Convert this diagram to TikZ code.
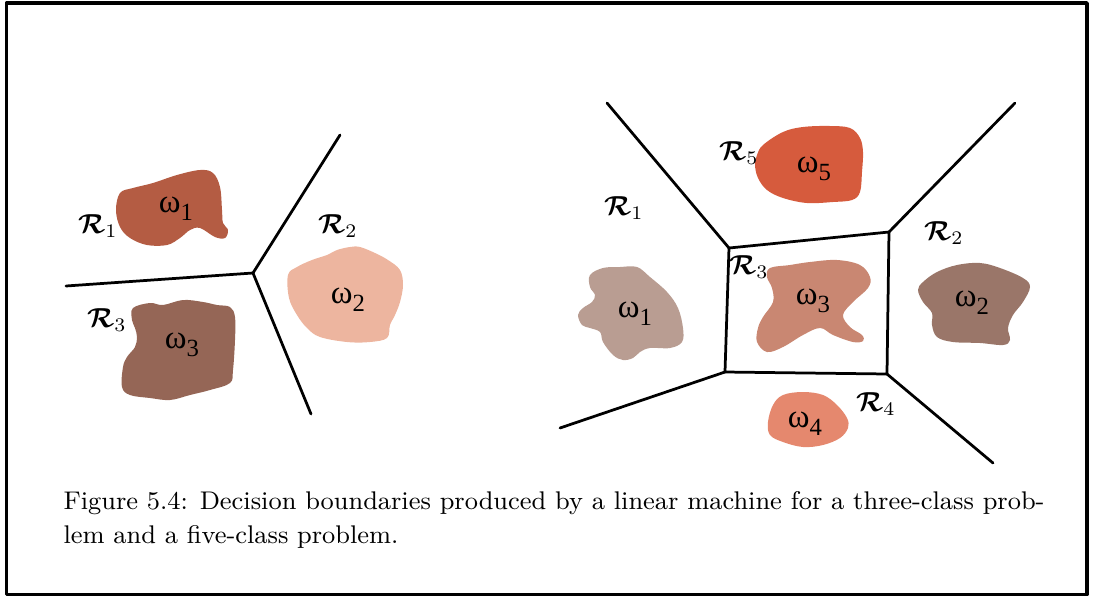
\documentclass[tikz,border=0pt]{standalone}
\usepackage{fontspec}
\usepackage{graphicx}
\usepackage{bm}
\usepackage{tikz}
\usetikzlibrary{calc}
\newfontfamily\grkfont{Liberation Serif}
\definecolor{rustone}{HTML}{B45C43}
\definecolor{peachtwo}{HTML}{EDB59F}
\definecolor{browntri}{HTML}{956656}
\definecolor{taupeone}{HTML}{B99D92}
\definecolor{mauvetwo}{HTML}{9A7669}
\definecolor{salmontri}{HTML}{C98772}
\definecolor{coralfour}{HTML}{E5886E}
\definecolor{redfive}{HTML}{D65B3D}
\newcommand{\wlab}[1]{{\grkfont\large ω\raisebox{-0.5ex}{\small #1}}}
\newcommand{\rlab}[1]{$\bm{\mathcal{R}}_{#1}$}

\begin{document}
\begin{tikzpicture}[x=0.364pt, y=-0.364pt, line cap=round, line join=round,
    bound/.style={line width=1pt},
    region/.style={font=\normalsize},
    classlab/.style={font=\large}]
      \useasboundingbox (0,0) rectangle (1094,602);
      \draw[line width=1.3pt] (6.5,3) rectangle (1087,594.5);

      % Three classes
      \coordinate (J) at (253,273);
      \coordinate (JL) at (66,286);
      \coordinate (JU) at (340,135);
      \coordinate (JD) at (311,414);
      \draw[bound] (JL) -- (J) -- (JU);
      \draw[bound] (J) -- (JD);

      \fill[rustone] plot[smooth cycle, tension=0.6] coordinates {(120,193) (133,188) (153,183) (177,175) (200,170) (213,173) (220,187) (222,210) (223,223) (228,230) (225,238) (215,237) (200,228) (190,230) (180,238) (167,245) (147,245) (130,238) (120,227) (116,210)};
      \node[classlab] (w1) at (176,209) {\wlab{1}};
      \node[region] (r1) at (98,226) {\rlab{1}};

      \fill[peachtwo] plot[smooth cycle, tension=0.6] coordinates {(350,247) (337,250) (327,255) (312,260) (297,267) (288,275) (289,298) (297,315) (307,328) (320,337) (347,342) (370,342) (387,338) (390,325) (395,315) (400,302) (403,285) (400,270) (388,260) (375,253) (360,247)};
      \node[classlab] (w2) at (348,300) {\wlab{2}};
      \node[region] (r2) at (338,226) {\rlab{2}};

      \fill[browntri] plot[smooth cycle, tension=0.6] coordinates {(133,308) (150,303) (163,305) (183,300) (203,302) (217,305) (230,307) (235,317) (235,340) (233,370) (230,383) (210,390) (190,395) (170,400) (150,398) (130,395) (122,387) (123,367) (127,357) (135,347) (137,337) (135,328) (132,320)};
      \node[classlab] (w3) at (182,345) {\wlab{3}};
      \node[region] (r3) at (107,320) {\rlab{3}};

      % Five classes
      \coordinate (BTL) at (729,248);
      \coordinate (BTR) at (889,232);
      \coordinate (BBR) at (887,374);
      \coordinate (BBL) at (725,372);
      \coordinate (ETL) at (607,103);
      \coordinate (ETR) at (1015,103);
      \coordinate (EBL) at (560,428);
      \coordinate (EBR) at (993,463);
      \draw[bound] (BTL) -- (BTR) -- (BBR) -- (BBL) -- cycle;
      \draw[bound] (BTL) -- (ETL);
      \draw[bound] (BTR) -- (ETR);
      \draw[bound] (BBL) -- (EBL);
      \draw[bound] (BBR) -- (EBR);

      \fill[redfive] plot[smooth cycle, tension=0.6] coordinates {(763,145) (783,132) (803,127) (830,126) (850,128) (860,138) (863,152) (862,172) (860,192) (852,200) (833,202) (807,203) (783,198) (767,190) (758,178) (755,165) (757,155)};
      \node[classlab] (v5) at (814,169) {\wlab{5}};
      \node[region] (s5) at (739,153) {\rlab{5}};

      \fill[taupeone] plot[smooth cycle, tension=0.6] coordinates {(590,275) (603,268) (620,267) (637,267) (650,277) (667,292) (678,308) (683,328) (682,342) (670,348) (650,348) (640,352) (633,358) (623,360) (613,355) (603,342) (600,332) (590,328) (582,325) (578,315) (583,308) (592,302) (595,295) (590,287)};
      \node[classlab] (v1) at (635,314) {\wlab{1}};
      \node[region] (s1) at (624,208) {\rlab{1}};

      \fill[salmontri] plot[smooth cycle, tension=0.6] coordinates {(770,268) (790,265) (810,262) (837,260) (860,265) (870,277) (868,288) (853,302) (843,315) (850,327) (862,335) (863,341) (853,342) (833,335) (820,328) (803,335) (783,347) (767,352) (757,342) (758,328) (763,317) (773,302) (772,288) (767,277)};
      \node[classlab] (v3) at (813,301) {\wlab{3}};
      \node[region] (s3) at (749,267) {\rlab{3}};

      \fill[mauvetwo] plot[smooth cycle, tension=0.6] coordinates {(923,282) (937,272) (957,265) (980,263) (1000,268) (1023,278) (1030,287) (1023,302) (1013,315) (1008,328) (1010,340) (1003,345) (980,343) (953,342) (937,337) (932,325) (932,313) (923,302) (918,290)};
      \node[classlab] (v2) at (972,303) {\wlab{2}};
      \node[region] (s2) at (944,233) {\rlab{2}};

      \fill[coralfour] plot[smooth cycle, tension=0.6] coordinates {(783,395) (803,392) (823,395) (837,405) (847,418) (848,428) (840,438) (823,445) (803,447) (783,442) (770,435) (768,422) (773,405)};
      \node[classlab] (v4) at (805,424) {\wlab{4}};
      \node[region] (s4) at (876,404) {\rlab{4}};

      % Caption
      \node[anchor=base west, inner sep=0pt] (cap) at (63,543)
        {\fontsize{9.3}{12.1}\selectfont\scalebox{1.006}[1]{\begin{tabular}[b]{@{}l@{}}Figure 5.4: Decision boundaries produced by a linear machine for a three-class prob-\\lem and a five-class problem.\end{tabular}}};
    \end{tikzpicture}
\end{document}
